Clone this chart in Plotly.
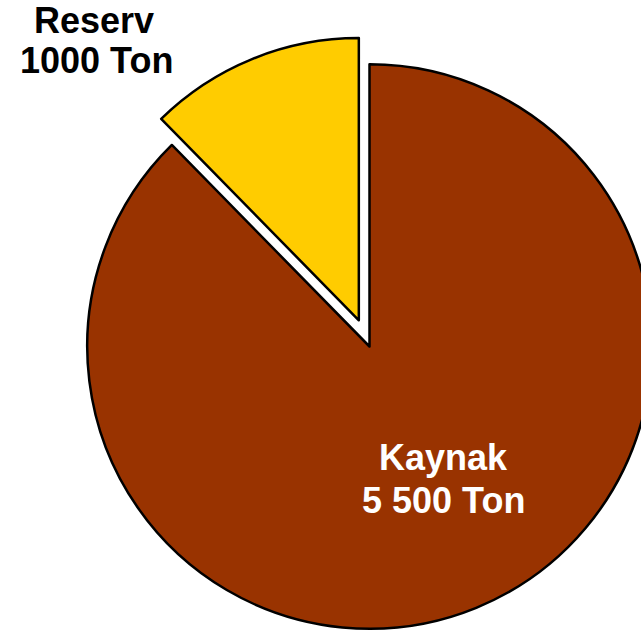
import plotly.graph_objects as go

# Data (slice sizes; labels as printed)
names = ["Kaynak", "Reserv"]
amount_labels = ["5 500 Ton", "1000 Ton"]
values = [7100, 1000]
colors = ["#993300", "#FFCC00"]
pulls = [0, 0.1]

W, H = 680, 657
ML, MT = 59, 36
PW, PH = W - ML, H - MT

fig = go.Figure(go.Pie(
    labels=names,
    values=values,
    sort=False,
    direction="clockwise",
    rotation=0,
    pull=pulls,
    marker=dict(colors=colors, line=dict(color="black", width=2.5)),
    textinfo="none",
    hoverinfo="label+value",
    showlegend=False,
))

def px(x):
    return (x - ML) / PW

def py(y):
    return 1 - (y - MT) / PH

# label placement (pixel centres of text lines)
label_pos = {
    "Reserv": [(94, 20), (96, 61)],
    "Kaynak": [(443, 457), (443, 500)],
}
text_colors = {"Reserv": "black", "Kaynak": "white"}

for name, amt in zip(names, amount_labels):
    for txt, (x, y) in zip([name, amt], label_pos[name]):
        fig.add_annotation(
            x=px(x), y=py(y), xref="paper", yref="paper",
            text=f"<b>{txt}</b>", showarrow=False,
            xanchor="center", yanchor="middle",
            font=dict(family="Liberation Sans, Arial, sans-serif", size=36,
                      color=text_colors[name]),
        )

fig.update_layout(
    width=W, height=H,
    margin=dict(l=ML, r=0, t=MT, b=0, pad=0),
    paper_bgcolor="white",
    plot_bgcolor="white",
)

fig.write_html(
    "out.html",
    config={"displayModeBar": False},
    post_script="document.body.style.overflow='hidden';document.documentElement.style.overflow='hidden';",
)
